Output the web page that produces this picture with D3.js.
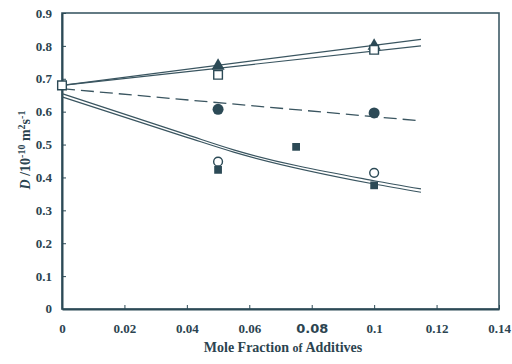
<!DOCTYPE html>
<html>
<head>
<meta charset="utf-8">
<script src="https://cdn.jsdelivr.net/npm/d3@7"></script>
<style>
  body { margin: 0; background: #fff; }
  svg { display: block; }
  .tick text { font-family: "Liberation Serif", serif; font-weight: bold; font-size: 13px; fill: #2c4450; }
</style>
</head>
<body>
<div id="chart"></div>
<script>
(function () {
  // x values (mole fraction) and D values
  const xTicks = [0, 0.02, 0.04, 0.06, 0.08, 0.1, 0.12, 0.14];
  const yTicks = [0, 0.1, 0.2, 0.3, 0.4, 0.5, 0.6, 0.7, 0.8, 0.9];

  const filledTriangle = [[0.05, 0.742], [0.1, 0.803]];
  const openSquare = [[0, 0.68], [0.05, 0.712], [0.1, 0.788]];
  const filledCircle = [[0.05, 0.607], [0.1, 0.596]];
  const openCircle = [[0.05, 0.448], [0.1, 0.414]];
  const filledSquare = [[0.05, 0.423], [0.075, 0.493], [0.1, 0.376]];

  // fitted curves as drawn in the figure
  const upperA = [[0, 0.68], [0.115, 0.82]];
  const upperB = [[0, 0.68], [0.115, 0.80]];
  const dashed = [[0, 0.67], [0.115, 0.572]];
  const lowerA = [[0, 0.655], [0.04, 0.53], [0.055, 0.484], [0.1, 0.39], [0.115, 0.365]];
  const lowerB = [[0, 0.645], [0.04, 0.522], [0.055, 0.477], [0.1, 0.38], [0.115, 0.355]];

  const ink = "#2c4a56";
  const width = 512, height = 364;
  const left = 62, right = 499, top = 13, bottom = 309;

  const svg = d3.select("#chart").append("svg")
    .attr("width", width)
    .attr("height", height);

  const x = d3.scaleLinear().domain([0, 0.14]).range([left, right]);
  const y = d3.scaleLinear().domain([0, 0.9]).range([bottom, top]);

  // frame
  svg.append("rect")
    .attr("x", left).attr("y", top)
    .attr("width", right - left).attr("height", bottom - top)
    .attr("fill", "none")
    .attr("stroke", "#3e5a66")
    .attr("stroke-width", 1.6);

  const xAxis = svg.append("g")
    .attr("transform", "translate(0," + bottom + ")")
    .call(d3.axisBottom(x).tickValues(xTicks).tickSizeInner(-4).tickSizeOuter(0).tickPadding(15)
      .tickFormat(d => d === 0 ? "0" : d3.format("")(+d.toFixed(2))));
  xAxis.select(".domain").attr("stroke", ink).attr("stroke-width", 2);
  xAxis.selectAll(".tick line").attr("stroke", ink).attr("stroke-width", 1);
  xAxis.selectAll(".tick text")
    .filter(d => d === 0.08)
    .style("font-family", "'DejaVu Sans', sans-serif")
    .style("font-size", "13px");

  const yAxis = svg.append("g")
    .attr("transform", "translate(" + left + ",0)")
    .call(d3.axisLeft(y).tickValues(yTicks).tickSizeInner(-4).tickSizeOuter(0).tickPadding(10)
      .tickFormat(d => d === 0 ? "0" : d3.format("")(+d.toFixed(1))));
  yAxis.select(".domain").attr("stroke", ink).attr("stroke-width", 2);
  yAxis.selectAll(".tick line").attr("stroke", ink).attr("stroke-width", 1);
  yAxis.selectAll(".tick").filter(d => d === 0).remove();
  svg.append("text")
    .attr("x", left - 10).attr("y", bottom + 4)
    .attr("text-anchor", "end")
    .attr("font-family", "Liberation Serif, serif").attr("font-weight", "bold")
    .attr("font-size", 13).attr("fill", "#2c4450")
    .text("0");

  // axis titles
  const xt = svg.append("text")
    .attr("x", 283).attr("y", 352)
    .attr("text-anchor", "middle")
    .attr("font-family", "Liberation Serif, serif").attr("font-weight", "bold")
    .attr("font-size", 14).attr("fill", "#2c4450");
  xt.append("tspan").text("Mole Fraction ");
  xt.append("tspan").attr("font-size", 12).text("of ");
  xt.append("tspan").text("Additives");

  const yt = svg.append("text")
    .attr("transform", "translate(30,150) rotate(-90)")
    .attr("text-anchor", "middle")
    .attr("font-family", "Liberation Serif, serif").attr("font-weight", "bold")
    .attr("font-size", 14).attr("fill", "#2c4450");
  yt.append("tspan").attr("font-style", "italic").text("D");
  yt.append("tspan").text(" /10");
  yt.append("tspan").attr("font-size", 10).attr("dy", -5).text("-10");
  yt.append("tspan").attr("dy", 5).text(" m");
  yt.append("tspan").attr("font-size", 10).attr("dy", -5).text("2");
  yt.append("tspan").attr("dy", 5).text("s");
  yt.append("tspan").attr("font-size", 10).attr("dy", -5).text("-1");

  // lines
  const line = d3.line().x(d => x(d[0])).y(d => y(d[1])).curve(d3.curveMonotoneX);
  const lines = svg.append("g").attr("fill", "none").attr("stroke", "#3a5560").attr("stroke-width", 1.2);
  for (const data of [upperA, upperB, lowerA, lowerB]) {
    lines.append("path").datum(data).attr("d", line);
  }
  lines.append("path").datum(dashed).attr("d", line)
    .attr("stroke-dasharray", "13,6").attr("stroke-width", 1.3);

  // markers
  const marks = svg.append("g");
  const sym = (type, size) => d3.symbol().type(type).size(size);

  marks.selectAll(".ftri").data(filledTriangle).join("path")
    .attr("transform", d => "translate(" + x(d[0]) + "," + (y(d[1]) + 1) + ")")
    .attr("d", sym(d3.symbolTriangle, 75))
    .attr("fill", ink);
  marks.selectAll(".osq").data(openSquare).join("path")
    .attr("transform", d => "translate(" + x(d[0]) + "," + y(d[1]) + ")")
    .attr("d", sym(d3.symbolSquare, 75))
    .attr("fill", "#fff").attr("stroke", ink).attr("stroke-width", 1.4);
  marks.selectAll(".fcirc").data(filledCircle).join("circle")
    .attr("cx", d => x(d[0])).attr("cy", d => y(d[1]))
    .attr("r", 5.5).attr("fill", ink);
  marks.selectAll(".fsq").data(filledSquare).join("path")
    .attr("transform", d => "translate(" + x(d[0]) + "," + y(d[1]) + ")")
    .attr("d", sym(d3.symbolSquare, 60))
    .attr("fill", ink);
  marks.selectAll(".ocirc").data(openCircle).join("circle")
    .attr("cx", d => x(d[0])).attr("cy", d => y(d[1]))
    .attr("r", 4.4).attr("fill", "#fff").attr("stroke", ink).attr("stroke-width", 1.4);
})();
</script>
</body>
</html>
